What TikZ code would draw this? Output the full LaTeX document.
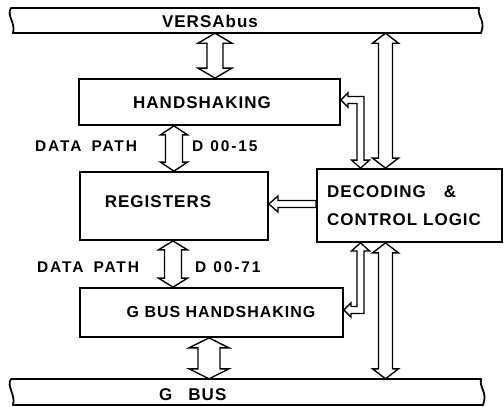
\documentclass[tikz,border=0pt]{standalone}
\usepackage{fontspec}
\newfontfamily\lblfont{Liberation Sans}[LetterSpace=6]
\newfontfamily\sidefont{Liberation Sans}[LetterSpace=12]
\usetikzlibrary{calc}
\tikzset{
  box/.style={draw, line width=1.8pt, inner sep=0pt},
  ghost/.style={draw=none, inner sep=0pt},
  bar/.style={draw, line width=1.8pt, line join=round},
  arrline/.style={draw, line width=1.4pt, line join=miter, fill=white},
  lbl/.style={font=\lblfont\bfseries\fontsize{17}{19}\selectfont, inner sep=0pt},
  lbls/.style={font=\sidefont\bfseries\fontsize{15.5}{17}\selectfont, inner sep=0pt, anchor=west},
}
% vertical double hollow arrow: x, top anchor, bottom anchor, shaft half, head half, head length
\newcommand\vdarr[6]{%
  \draw[arrline] let \p1=#2, \p2=#3 in
   ({#1pt},\y1) -- ({#1pt+#5pt},{\y1-#6pt}) -- ({#1pt+#4pt},{\y1-#6pt})
   -- ({#1pt+#4pt},{\y2+#6pt}) -- ({#1pt+#5pt},{\y2+#6pt}) -- ({#1pt},\y2)
   -- ({#1pt-#5pt},{\y2+#6pt}) -- ({#1pt-#4pt},{\y2+#6pt})
   -- ({#1pt-#4pt},{\y1-#6pt}) -- ({#1pt-#5pt},{\y1-#6pt}) -- cycle;}
% L-shaped thin double hollow arrow: x, corner y, vertical tip anchor, horizontal tip anchor, sign
\newcommand\larr[5]{%
  \draw[arrline, line width=1.3pt] let \p1=#3, \p2=#4 in
   ({#1pt},\y1) -- ({#1pt+9pt},{\y1+(#5)*8pt}) -- ({#1pt+3.5pt},{\y1+(#5)*8pt})
   -- ({#1pt+3.5pt},{-#2pt+(#5)*3.5pt}) -- ({\x2+7pt},{-#2pt+(#5)*3.5pt})
   -- ({\x2+7pt},{-#2pt+(#5)*7pt}) -- (\x2,{-#2pt})
   -- ({\x2+7pt},{-#2pt-(#5)*7pt}) -- ({\x2+7pt},{-#2pt-(#5)*3.5pt})
   -- ({#1pt-3.5pt},{-#2pt-(#5)*3.5pt}) -- ({#1pt-3.5pt},{\y1+(#5)*8pt})
   -- ({#1pt-9pt},{\y1+(#5)*8pt}) -- cycle;}
\begin{document}
\begin{tikzpicture}[x=1pt,y=-1pt]
\useasboundingbox (0,0) rectangle (504,407);
% buses
\node[ghost, minimum width=470pt, minimum height=25pt] (vb) at (246,20.5) {};
\draw[bar] (11,8) -- (479,8) .. controls +(-2,9) and +(5,-13) .. (481,33)
  -- (13,33) .. controls +(3,-10) and +(-5,7) .. (11,8) -- cycle;
\node[lbl] (vbt) at (210,21) {VERSAbus};
\node[ghost, minimum width=472pt, minimum height=26pt] (gb) at (246,392) {};
\draw[bar] (11,379) -- (481,379) .. controls +(-2,9) and +(5,-13) .. (483,405)
  -- (13,405) .. controls +(3,-10) and +(-5,7) .. (11,379) -- cycle;
\node[lbl, anchor=west] (gbt) at (159,395) {G\hspace{16pt}BUS};
% boxes
\node[box, minimum width=261pt, minimum height=46pt] (hs) at (209.5,102) {};
\node[lbl] (hst) at (202,103) {HANDSHAKING};
\node[box, minimum width=188pt, minimum height=68pt] (rg) at (174,206) {};
\node[lbl] (rgt) at (158,202) {REGISTERS};
\node[box, minimum width=185pt, minimum height=73pt] (dc) at (409.5,205.5) {};
\node[lbl, anchor=west] (dct1) at (327,192) {DECODING\hspace{18pt}\&};
\node[lbl, anchor=west] (dct2) at (327,220) {CONTROL LOGIC};
\node[box, minimum width=263pt, minimum height=49pt] (gh) at (211.5,312.5) {};
\node[lbl, font=\lblfont\bfseries\fontsize{16}{18}\selectfont] (ght) at (221,312) {G BUS HANDSHAKING};
% side labels
\node[lbls] (dp1) at (35,146) {DATA\hspace{10pt}PATH};
\node[lbls] (d1) at (192,146) {D\hspace{7pt}00-15};
\node[lbls] (dp2) at (37,267) {DATA\hspace{10pt}PATH};
\node[lbls] (d2) at (195,267) {D\hspace{7pt}00-71};
% arrows
\vdarr{215}{(vb.south)}{(hs.north)}{8}{17}{10}
\vdarr{174}{(hs.south)}{(rg.north)}{8.5}{13.5}{9}
\vdarr{173}{(rg.south)}{(gh.north)}{8.5}{14.5}{9}
\vdarr{209}{(gh.south)}{(gb.north)}{11}{20}{10}
\vdarr{385.5}{(vb.south)}{(dc.north)}{7}{13}{10}
\vdarr{385.5}{(dc.south)}{(gb.north)}{7}{13}{10}
\larr{360.5}{100}{(dc.north)}{(hs.east)}{1}
\larr{360.5}{310}{(dc.south)}{(gh.east)}{-1}
\draw[arrline, line width=1.3pt] let \p1=(dc.west), \p2=(rg.east) in
  (\x2,-204pt) -- ({\x2+9pt},{-204pt+8pt}) -- ({\x2+9pt},{-204pt+3.5pt})
  -- (\x1,{-204pt+3.5pt}) -- (\x1,{-204pt-3.5pt}) -- ({\x2+9pt},{-204pt-3.5pt})
  -- ({\x2+9pt},{-204pt-8pt}) -- cycle;
\end{tikzpicture}
\end{document}
